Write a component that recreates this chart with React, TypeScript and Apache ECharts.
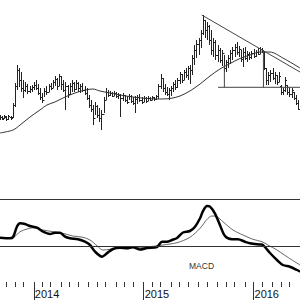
import React, { useEffect, useRef } from "react";
import * as echarts from "echarts";

// Weekly categories (first week: 2013-09-16)
const startDate = "2013-09-16";
const weekCount = 143;

// Price bars: [weekIndex, open, close, low, high]
const priceBars: number[][] = [
  [0, 82, 83, 80, 85], [1, 83, 81, 80, 84], [2, 82, 84, 81, 85], [3, 83, 81, 79, 84], [4, 81, 84, 80, 85],
  [5, 83, 82, 80, 84], [6, 83, 95, 82, 97], [7, 95, 114, 93, 117], [8, 114, 130, 110, 135], [9, 130, 120, 113, 132],
  [10, 120, 112, 108, 128], [11, 112, 110, 102, 120], [12, 110, 114, 108, 118], [13, 114, 109, 106, 116], [14, 109, 111, 107, 114],
  [15, 111, 113, 108, 115], [16, 113, 115, 110, 118], [17, 115, 112, 110, 120], [18, 112, 107, 105, 116], [19, 107, 103, 100, 112],
  [20, 103, 100, 97, 107], [21, 100, 109, 103, 112], [22, 109, 108, 105, 114], [23, 108, 114, 108, 116], [24, 114, 112, 110, 117],
  [25, 112, 118, 112, 120], [26, 118, 121, 114, 124], [27, 121, 114, 110, 122], [28, 114, 124, 114, 126], [29, 124, 116, 110, 124],
  [30, 116, 110, 108, 120], [31, 110, 114, 90, 118], [32, 114, 106, 102, 115], [33, 106, 114, 105, 117], [34, 114, 117, 108, 120],
  [35, 117, 111, 108, 118], [36, 111, 117, 110, 120], [37, 117, 112, 108, 118], [38, 112, 114, 107, 116], [39, 114, 110, 108, 117],
  [40, 110, 107, 105, 114], [41, 107, 102, 100, 112], [42, 102, 95, 92, 105], [43, 95, 91, 88, 100], [44, 91, 82, 75, 95],
  [45, 82, 94, 85, 98], [46, 94, 85, 82, 95], [47, 85, 82, 78, 92], [48, 82, 86, 70, 90], [49, 86, 100, 87, 103],
  [50, 100, 108, 100, 112], [51, 108, 105, 103, 110], [52, 105, 107, 104, 109], [53, 107, 104, 103, 108], [54, 104, 107, 104, 109],
  [55, 107, 104, 102, 108], [56, 104, 105, 101, 107], [57, 105, 102, 83, 106], [58, 102, 105, 99, 107], [59, 105, 100, 98, 105],
  [60, 100, 98, 96, 104], [61, 98, 104, 100, 106], [62, 104, 99, 97, 105], [63, 99, 97, 95, 103], [64, 97, 101, 87, 104],
  [65, 101, 103, 96, 105], [66, 103, 100, 98, 106], [67, 100, 98, 96, 103], [68, 98, 102, 98, 104], [69, 102, 99, 97, 103],
  [70, 99, 102, 99, 104], [71, 102, 100, 99, 103], [72, 100, 103, 100, 104], [73, 103, 101, 99, 103], [74, 101, 104, 100, 105],
  [75, 104, 114, 101, 116], [76, 114, 122, 111, 126], [77, 122, 112, 108, 122], [78, 112, 108, 105, 116], [79, 108, 106, 104, 113],
  [80, 106, 110, 100, 112], [81, 110, 112, 104, 114], [82, 112, 116, 108, 118], [83, 116, 113, 110, 120], [84, 113, 120, 112, 122],
  [85, 120, 126, 116, 128], [86, 126, 120, 117, 126], [87, 120, 128, 120, 130], [88, 128, 125, 122, 132], [89, 125, 132, 120, 134],
  [90, 132, 130, 116, 135], [91, 130, 142, 125, 145], [92, 142, 150, 135, 155], [93, 150, 156, 142, 160], [94, 156, 160, 145, 162],
  [95, 160, 167, 152, 170], [96, 167, 180, 165, 185], [97, 180, 170, 162, 180], [98, 170, 174, 160, 178], [99, 174, 160, 155, 175],
  [100, 160, 150, 145, 170], [101, 150, 158, 143, 162], [102, 158, 145, 140, 160], [103, 145, 150, 138, 155], [104, 150, 140, 137, 152],
  [105, 140, 147, 134, 150], [106, 147, 132, 128, 145], [107, 132, 138, 128, 140], [108, 138, 142, 132, 145], [109, 142, 147, 136, 150],
  [110, 147, 150, 140, 153], [111, 150, 153, 143, 156], [112, 153, 148, 145, 158], [113, 148, 151, 143, 154], [114, 151, 141, 138, 150],
  [115, 141, 148, 133, 152], [116, 148, 142, 140, 153], [117, 142, 146, 138, 149], [118, 146, 143, 140, 148], [119, 143, 147, 141, 149],
  [120, 147, 144, 142, 151], [121, 144, 148, 143, 150], [122, 148, 146, 145, 152], [123, 146, 151, 146, 153], [124, 151, 149, 147, 152],
  [125, 149, 132, 130, 148], [126, 132, 120, 115, 132], [127, 120, 125, 115, 128], [128, 125, 127, 118, 130], [129, 127, 122, 120, 132],
  [130, 122, 125, 116, 128], [131, 125, 118, 115, 125], [132, 118, 124, 118, 128], [133, 114, 108, 105, 115], [134, 108, 110, 105, 112],
  [135, 110, 120, 108, 123], [136, 115, 108, 105, 115], [137, 108, 106, 103, 113], [138, 106, 110, 102, 112], [139, 108, 102, 100, 108],
  [140, 102, 97, 95, 105], [141, 97, 91, 90, 100],
];

// Moving average of price: [weekIndex, value]
const movingAverage: number[][] = [
  [0, 67], [6.2, 70], [9.5, 75], [14.2, 83], [18.9, 90], [22.2, 95], [26, 98], [30.8, 103], [35.5, 107],
  [40.2, 110], [44, 111], [47.3, 109], [52.1, 107], [56.8, 105], [62.9, 103], [69.6, 101.5], [74, 101],
  [80.5, 101.5], [85.2, 104], [89.9, 109], [94.7, 116], [99.4, 124], [104.1, 131], [108.9, 136.5],
  [113.6, 141.5], [118.3, 145], [123, 148], [127.8, 148], [133.9, 142], [142, 132],
];

// Trend / measurement lines: [weekIndex, value]
const trendLine: number[][] = [[95.5, 185], [142, 128]];
const supportLine: number[][] = [[103.2, 112.7], [142, 112.7]];
const measureLine1: number[][] = [[106.2, 135], [106.2, 112.7]];
const measureLine2: number[][] = [[124.7, 150], [124.7, 112.7]];

// MACD line and signal line: [weekIndex, value]
const macdLine: number[][] = [
  [0, 8.3], [4.7, 7.7], [6.2, 9], [8, 19.3], [9.5, 22.7], [11.8, 22], [14.2, 20], [17.5, 18.3], [20.4, 14.3],
  [23.7, 12], [26, 13.3], [28.4, 13.3], [30.8, 9.3], [33.1, 7.7], [36.9, 6.7], [40.2, 4.3], [42.6, 1],
  [45, -5.7], [48.3, -10.7], [50.6, -7.3], [53.5, -3], [56.8, -1.7], [60.1, -2.3], [62.9, -1.3], [66.3, -3.5],
  [69.6, -2], [74.3, -1], [76.7, 4.3], [79, 4.3], [81.4, 6], [83.8, 8], [86.6, 13.5], [89.9, 15], [92.3, 19.3],
  [94.7, 27.7], [96.1, 35], [98, 40], [99.4, 39.3], [101.7, 32.7], [104.1, 21], [106.5, 10], [109.8, 6.7],
  [112.6, 6.7], [115.9, 4.3], [118.3, 2.7], [121.6, 1.7], [124, 1.5], [125.4, -1], [127.8, -7], [131.1, -14],
  [133.9, -19], [137.2, -20.7], [140.6, -24], [142, -25.7],
];
const signalLine: number[][] = [
  [0, 8.3], [6.2, 8.7], [9.5, 14.3], [12.8, 17], [15.6, 18.3], [20.4, 16], [25.1, 14.3], [29.8, 12.7],
  [34.5, 10], [39.3, 8.7], [42.6, 6], [45.9, 0.3], [48.7, -4], [52.1, -3.3], [56.8, -1.7], [69.6, -1.3],
  [71, -0.7], [77.1, 1], [83.8, 3.3], [89.9, 8.7], [94.7, 17.7], [98, 26.7], [100.3, 30], [102.7, 29.3],
  [105.5, 24.3], [110.3, 16], [115, 11], [119.7, 6.7], [124, 4.3], [126.8, 1], [131.1, -4], [135.8, -10.7],
  [142, -19],
];

const macdLevels = [0, 47];

function buildDates(): string[] {
  const out: string[] = [];
  const d0 = new Date(startDate + "T00:00:00Z").getTime();
  for (let i = 0; i < weekCount; i++) {
    out.push(new Date(d0 + i * 7 * 86400000).toISOString().slice(0, 10));
  }
  return out;
}

export default function App() {
  const ref = useRef<HTMLDivElement>(null);
  useEffect(() => {
    if (!ref.current) return;
    const chart = echarts.init(ref.current, null, { renderer: "svg" });
    const dates = buildDates();
    const monthStart = (i: number) => i > 0 && dates[i].slice(5, 7) !== dates[i - 1].slice(5, 7);
    const yearStart = (i: number) => i > 0 && dates[i].slice(0, 4) !== dates[i - 1].slice(0, 4);
    const ink = "#222";
    const font = "'Liberation Sans', Arial, sans-serif";

    chart.setOption({
      animation: false,
      backgroundColor: "#fff",
      grid: [
        { left: 0, right: 0, top: 0, height: 200, outerBoundsMode: "none" },
        { left: 0, right: 0, top: 190, height: 92, outerBoundsMode: "none" },
      ],
      xAxis: [
        { gridIndex: 0, type: "value", min: 0, max: weekCount - 1, show: false },
        { gridIndex: 1, type: "value", min: 0, max: weekCount - 1, show: false },
        {
          gridIndex: 1, type: "category", data: dates, boundaryGap: false, position: "bottom",
          axisLine: { show: false },
          axisTick: { show: true, interval: (i: number) => monthStart(i), length: 5, lineStyle: { color: "#333", width: 1 } },
          axisLabel: { show: false },
          splitLine: { show: false },
        },
        {
          gridIndex: 1, type: "category", data: dates, boundaryGap: false, position: "bottom",
          axisLine: { show: false },
          axisTick: { show: true, interval: (i: number) => yearStart(i), length: 18, lineStyle: { color: "#333", width: 1 } },
          axisLabel: {
            show: true, interval: (i: number) => yearStart(i), formatter: (v: string) => v.slice(0, 4),
            align: "left", margin: 6, padding: [0, 0, 0, 1], fontSize: 11, color: "#111", fontFamily: font,
          },
          splitLine: { show: false },
        },
      ],
      yAxis: [
        { gridIndex: 0, type: "value", min: 0, max: 200, show: false },
        { gridIndex: 1, type: "value", min: -36, max: 56, show: false },
      ],
      graphic: [
        { type: "text", left: 189, top: 261, style: { text: "MACD", fontSize: 8.5, fill: "#333", fontFamily: font } },
      ],
      series: [
        {
          type: "custom", xAxisIndex: 0, yAxisIndex: 0, data: priceBars, silent: true,
          encode: { x: 0, y: [1, 2, 3, 4] },
          renderItem: (params: any, api: any) => {
            const x = api.value(0);
            const pO = api.coord([x, api.value(1)]);
            const pC = api.coord([x, api.value(2)]);
            const pL = api.coord([x, api.value(3)]);
            const pH = api.coord([x, api.value(4)]);
            const xx = Math.round(pH[0]) + 0.5;
            const yo = Math.round(pO[1]) + 0.5;
            const yc = Math.round(pC[1]) + 0.5;
            const st = { stroke: ink, lineWidth: 1 };
            return {
              type: "group",
              children: [
                { type: "line", shape: { x1: xx, y1: pH[1], x2: xx, y2: pL[1] }, style: st },
                { type: "line", shape: { x1: xx - 1.5, y1: yo, x2: xx, y2: yo }, style: st },
                { type: "line", shape: { x1: xx, y1: yc, x2: xx + 1.5, y2: yc }, style: st },
              ],
            };
          },
        },
        {
          type: "line", xAxisIndex: 0, yAxisIndex: 0, data: movingAverage, smooth: 0.3, showSymbol: false,
          lineStyle: { color: "#333", width: 1 }, silent: true,
        },
        ...[trendLine, supportLine, measureLine1, measureLine2].map((d) => ({
          type: "line", xAxisIndex: 0, yAxisIndex: 0, data: d, showSymbol: false,
          lineStyle: { color: "#444", width: 1 }, silent: true,
        })),
        {
          type: "line", xAxisIndex: 1, yAxisIndex: 1, data: signalLine, smooth: 0.3, showSymbol: false,
          lineStyle: { color: "#666", width: 1 }, silent: true,
          markLine: {
            silent: true, symbol: ["none", "none"], label: { show: false },
            lineStyle: { color: "#333", width: 1, type: "solid" },
            data: macdLevels.map((v) => ({ yAxis: v })),
          },
        },
        {
          type: "line", xAxisIndex: 1, yAxisIndex: 1, data: macdLine, smooth: 0.3, showSymbol: false,
          lineStyle: { color: "#000", width: 2.5 }, silent: true,
        },
      ],
    });
    return () => chart.dispose();
  }, []);
  return <div ref={ref} style={{ position: "fixed", left: 0, top: 0, width: 300, height: 300, background: "#fff" }} />;
}
